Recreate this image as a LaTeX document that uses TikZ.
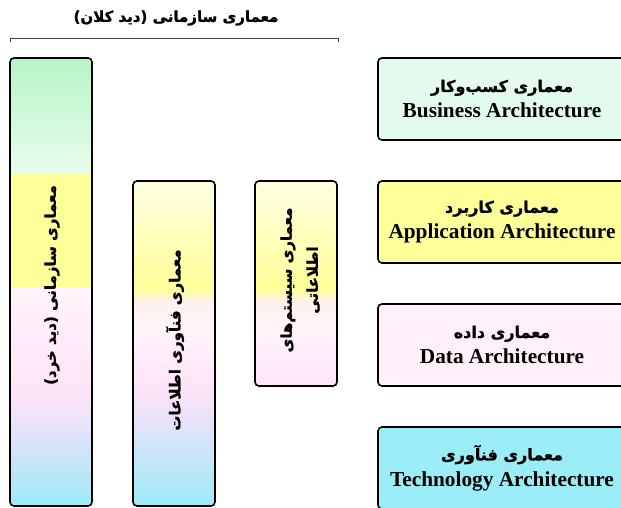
\documentclass[tikz,border=0pt]{standalone}
\usepackage{fontspec}
\setmainfont{Liberation Serif}
\newfontfamily\fa[Script=Arabic, FakeBold=1.2]{DejaVu Sans}
\TeXXeTstate=1

\definecolor{grnA}{HTML}{B5F5C5}
\definecolor{grnB}{HTML}{E8FCEE}
\definecolor{yel}{HTML}{FFFF99}
\definecolor{yelL}{HTML}{FFFFE2}
\definecolor{peach}{HTML}{FDF2EC}
\definecolor{pkA}{HTML}{FFF4FC}
\definecolor{pkB}{HTML}{FFE4F7}
\definecolor{lav}{HTML}{E6E2F8}
\definecolor{cyn}{HTML}{9EEAF6}
\definecolor{bizC}{HTML}{E2FBEC}
\definecolor{dataC}{HTML}{FFF0FA}
\definecolor{techC}{HTML}{9AECF6}

\begin{document}
\begin{tikzpicture}[x=1pt,y=-1pt,
  frame/.style={draw=black, line width=1.6pt, rounded corners=4pt},
  fatext/.style={font=\fa\bfseries\fontsize{15}{26}\selectfont},
  layer/.style={frame, minimum width=248pt, minimum height=82pt, inner sep=0pt,
    align=center, font=\bfseries\fontsize{21.3}{24}\selectfont},
  band/.style 2 args={top color=#1, bottom color=#2, draw=none}
]
\useasboundingbox (0,0) rectangle (621,508);
\clip (0,0) rectangle (621,508);

% heading with its bracket over the three columns
\node[fatext] (title) at (176,18) {\beginR معماری سازمانی (دید کلان)\endR};
\draw[line width=0.9pt, black!75] (10,42) -- (10,38) -- (338,38) -- (338,42);

% column 1: enterprise architecture (micro view)
\begin{scope}
  \clip[rounded corners=4pt] (10,58) rectangle (92,506);
  \fill[band={grnA}{grnB}] (10,58) rectangle (92,174);
  \fill[yel] (10,174) rectangle (92,287);
  \fill[band={pkA}{pkB}] (10,287) rectangle (92,390);
  \fill[band={pkB}{lav}] (10,390) rectangle (92,428);
  \fill[band={lav}{cyn}] (10,428) rectangle (92,506);
\end{scope}
\draw[frame] (10,58) rectangle (92,506);
\node[fatext, rotate=90] (micro) at (52,285) {\beginR معماری سازمانی (دید خرد)\endR};

% column 2: IT architecture
\begin{scope}
  \clip[rounded corners=4pt] (133,181) rectangle (215,506);
  \fill[band={yelL}{yel}] (133,181) rectangle (215,288);
  \fill[band={yel}{peach}] (133,288) rectangle (215,302);
  \fill[band={peach}{pkA}] (133,302) rectangle (215,330);
  \fill[band={pkA}{pkB}] (133,330) rectangle (215,385);
  \fill[band={pkB}{lav}] (133,385) rectangle (215,420);
  \fill[band={lav}{cyn}] (133,420) rectangle (215,506);
\end{scope}
\draw[frame] (133,181) rectangle (215,506);
\node[fatext, rotate=90] (itarch) at (175,340) {\beginR معماری فنآوری اطلاعات\endR};

% column 3: information systems architecture
\begin{scope}
  \clip[rounded corners=4pt] (255,181) rectangle (337,386);
  \fill[band={yelL}{yel}] (255,181) rectangle (337,288);
  \fill[band={yel}{peach}] (255,288) rectangle (337,302);
  \fill[band={peach}{pkA}] (255,302) rectangle (337,330);
  \fill[band={pkA}{pkB}] (255,330) rectangle (337,386);
\end{scope}
\draw[frame] (255,181) rectangle (337,386);
\node[fatext, rotate=90, align=center] (isarch) at (300,280)
  {\beginR معماری سیستم‌های\endR\\\beginR اطلاعاتی\endR};

% the four architecture layers
\node[layer, fill=bizC] (biz) at (502,99)
  {{\fa\fontsize{16}{24}\selectfont\beginR معماری کسب‌وکار\endR}\\[2pt]Business Architecture};
\node[layer, fill=yel] (app) at (502,222)
  {{\fa\fontsize{16}{24}\selectfont\beginR معماری کاربرد\endR}\\[2pt]Application Architecture};
\node[layer, fill=dataC] (data) at (502,345)
  {{\fa\fontsize{16}{24}\selectfont\beginR معماری داده\endR}\\[2pt]Data Architecture};
\node[layer, fill=techC] (tech) at (502,468)
  {{\fa\fontsize{16}{24}\selectfont\beginR معماری فنآوری\endR}\\[2pt]Technology Architecture};
\end{tikzpicture}
\end{document}
